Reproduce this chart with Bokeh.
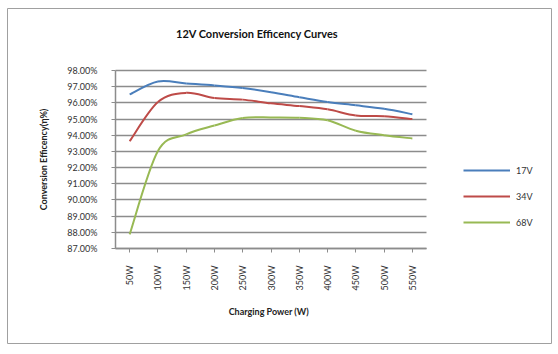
import math
from bokeh.plotting import figure
from bokeh.models import (FixedTicker, Legend, LegendItem, Grid, LinearAxis, Label,
                          ColumnDataSource, Range1d)
from bokeh.embed import file_html
from bokeh.resources import INLINE

categories = ["50W", "100W", "150W", "200W", "250W", "300W", "350W", "400W",
              "450W", "500W", "550W"]
eff_17v = [96.52, 97.32, 97.20, 97.08, 96.92, 96.66, 96.35, 96.05, 95.85, 95.63, 95.30]
eff_34v = [93.63, 96.05, 96.62, 96.30, 96.20, 95.97, 95.80, 95.60, 95.22, 95.18, 95.00]
eff_68v = [87.87, 93.02, 94.05, 94.60, 95.06, 95.10, 95.08, 94.92, 94.28, 94.00, 93.80]
series = [("17V", eff_17v, "#4A7EBB"), ("34V", eff_34v, "#BE4B48"), ("68V", eff_68v, "#98B954")]
y_ticks = [87, 88, 89, 90, 91, 92, 93, 94, 95, 96, 97, 98]
title_text = "12V  Conversion Efficency Curves"
x_title = "Charging  Power  (W)"
y_title = "Conversion Efficency(η%)"

FONT = "Lato"
GRID = "#8C8C8C"

# layout (pixels in the 558x354 canvas)
W, H = 558, 354
BOX_L, BOX_R, BOX_T, BOX_B = 7, 551, 8, 343        # outer chart border
PLOT_L, PLOT_R, PLOT_T, PLOT_B = 115, 426, 70, 248  # category/value area

n = len(categories)
x_lo, x_hi = 0.5, n + 0.5
y_lo, y_hi = y_ticks[0], y_ticks[-1]
px_x = (PLOT_R - PLOT_L) / (x_hi - x_lo)
px_y = (PLOT_B - PLOT_T) / (y_hi - y_lo)
x_range = Range1d(x_lo - (PLOT_L - BOX_L) / px_x, x_hi + (BOX_R - PLOT_R) / px_x)
y_range = Range1d(y_lo - (BOX_B - PLOT_B) / px_y, y_hi + (PLOT_T - BOX_T) / px_y)

p = figure(width=W, height=H, output_backend="svg", toolbar_location=None,
           x_range=x_range, y_range=y_range,
           x_axis_location=None, y_axis_location=None,
           min_border_left=BOX_L, min_border_right=W - BOX_R,
           min_border_top=BOX_T, min_border_bottom=H - BOX_B)
p.outline_line_color = "#A0A0A0"
p.outline_line_width = 1
p.background_fill_color = "white"
p.border_fill_color = "white"
p.xgrid.visible = False
p.ygrid.visible = False

xs = list(range(1, n + 1))

# horizontal gridlines
grid = Grid(dimension=1, ticker=FixedTicker(ticks=y_ticks), grid_line_color=GRID,
            grid_line_width=1.5)
try:
    grid.cross_bounds = (x_lo, x_hi)
    p.add_layout(grid)
except Exception:
    p.segment(x0=[x_lo] * len(y_ticks), x1=[x_hi] * len(y_ticks), y0=y_ticks, y1=y_ticks,
              line_color=GRID, line_width=1.5)


def bezier_source(vals):
    m = len(vals)
    d = dict(x0=[], y0=[], x1=[], y1=[], cx0=[], cy0=[], cx1=[], cy1=[])
    for i in range(m - 1):
        xa, ya = xs[i], vals[i]
        xb, yb = xs[i + 1], vals[i + 1]
        xp, yp = (xs[i - 1], vals[i - 1]) if i > 0 else (xa, ya)
        xn, yn = (xs[i + 2], vals[i + 2]) if i + 2 < m else (xb, yb)
        d["x0"].append(xa); d["y0"].append(ya)
        d["x1"].append(xb); d["y1"].append(yb)
        d["cx0"].append(xa + (xb - xp) / 6.0); d["cy0"].append(ya + (yb - yp) / 6.0)
        d["cx1"].append(xb - (xn - xa) / 6.0); d["cy1"].append(yb - (yn - ya) / 6.0)
    return ColumnDataSource(d)


items = []
for name, vals, color in series:
    r = p.bezier(x0="x0", y0="y0", x1="x1", y1="y1", cx0="cx0", cy0="cy0",
                 cx1="cx1", cy1="cy1", source=bezier_source(vals),
                 line_color=color, line_width=2)
    items.append(LegendItem(label=name, renderers=[r]))

legend = Legend(items=items, location=(463 - BOX_L, BOX_B - 229), orientation="vertical",
                glyph_width=47, glyph_height=14, label_height=14, label_width=30,
                spacing=12, padding=0, margin=0, label_standoff=6,
                label_text_font=FONT, label_text_font_size="9px",
                label_text_color="#333333",
                border_line_color=None, background_fill_alpha=0)
p.add_layout(legend, "center")

# axes fixed at the value/category area edges
xaxis = LinearAxis(fixed_location=y_lo, bounds=(x_lo, x_hi),
                   ticker=FixedTicker(ticks=xs),
                   major_label_overrides={x: c for x, c in zip(xs, categories)},
                   major_label_orientation=math.pi / 2,
                   axis_label=x_title)
yaxis = LinearAxis(fixed_location=x_lo, bounds=(y_lo, y_hi),
                   ticker=FixedTicker(ticks=y_ticks),
                   major_label_overrides={t: f"{t:.2f}%" for t in y_ticks},
                   axis_label=y_title)

for ax in (xaxis, yaxis):
    ax.axis_line_color = GRID
    ax.axis_line_width = 1.5
    ax.major_tick_line_color = GRID
    ax.major_tick_out = 4
    ax.major_tick_in = 0
    ax.minor_tick_line_color = None
    ax.major_label_text_font = FONT
    ax.major_label_text_font_size = "9px"
    ax.major_label_text_color = "#333333"
    ax.axis_label_text_font = FONT
    ax.axis_label_text_font_style = "bold"
    ax.axis_label_text_font_size = "9px"
    ax.axis_label_text_color = "#222222"

xaxis.major_label_standoff = 13
yaxis.major_label_standoff = 14
xaxis.axis_label_standoff = 13
yaxis.axis_label_standoff = 15
p.add_layout(xaxis, "below")
p.add_layout(yaxis, "left")

title = Label(x=x_lo + (258 - PLOT_L) / px_x, y=y_hi + (PLOT_T - 33) / px_y,
              text=title_text, text_align="center", text_baseline="middle",
              text_font=FONT, text_font_size="11px", text_font_style="bold",
              text_color="#111111")
p.add_layout(title)

open("out.html", "w").write(file_html(p, INLINE))
